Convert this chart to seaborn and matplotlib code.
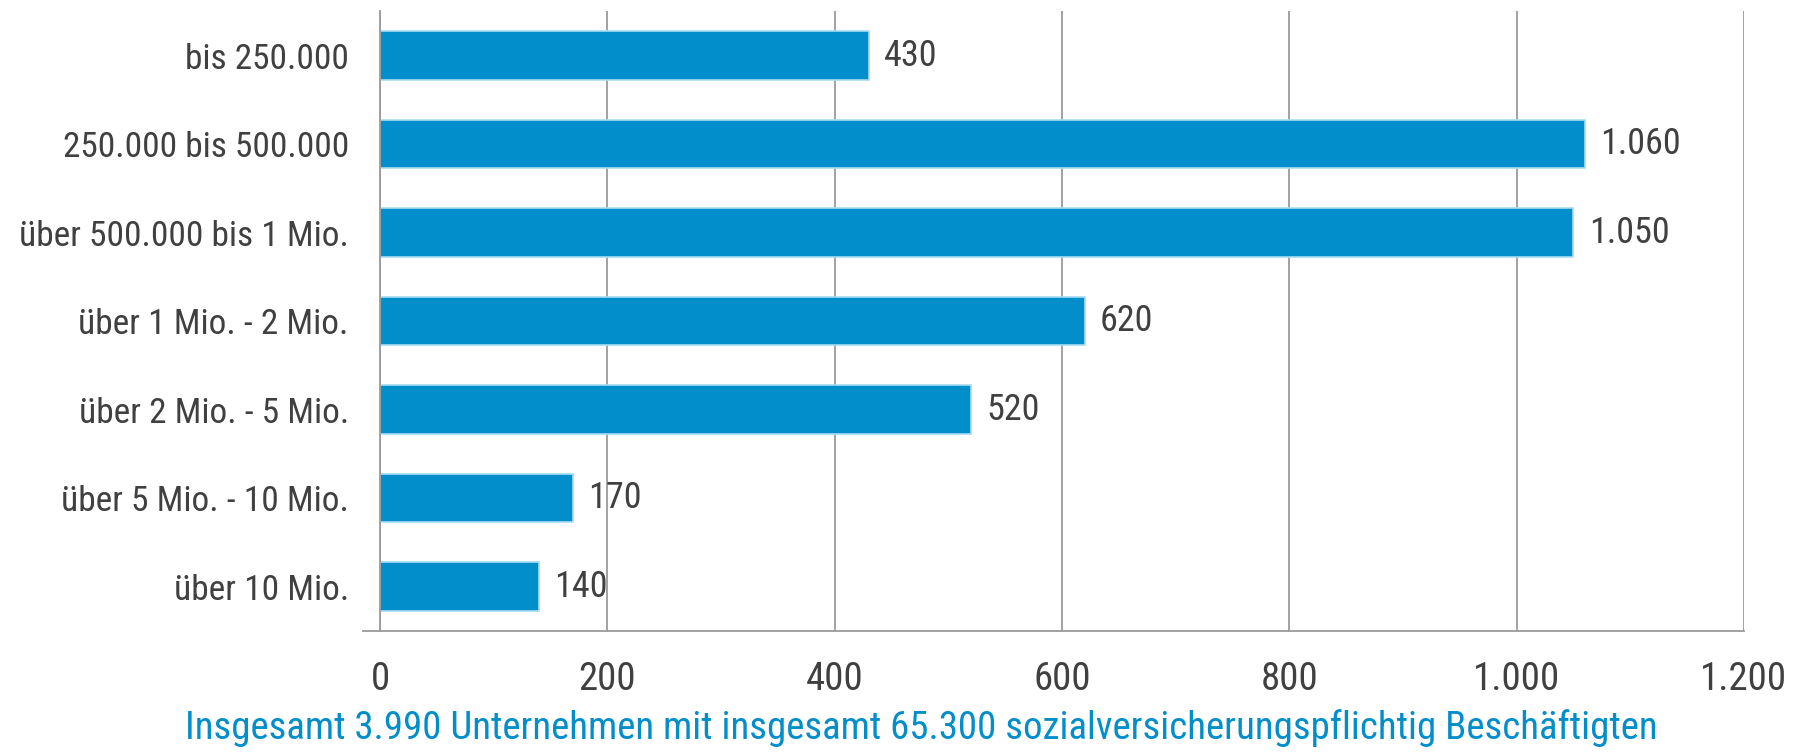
import numpy as np
import pandas as pd
import matplotlib
matplotlib.use("Agg")
import matplotlib.pyplot as plt
import seaborn as sns
from matplotlib.ticker import FuncFormatter, FixedLocator

# Daten
kategorien = ["bis 250.000", "250.000 bis 500.000", "über 500.000 bis 1 Mio.",
              "über 1 Mio. - 2 Mio.", "über 2 Mio. - 5 Mio.", "über 5 Mio. - 10 Mio.",
              "über 10 Mio."]
unternehmen = [430, 1060, 1050, 620, 520, 170, 140]
x_ticks = [0, 200, 400, 600, 800, 1000, 1200]
untertitel = "Insgesamt 3.990 Unternehmen mit insgesamt 65.300 sozialversicherungspflichtig Beschäftigten"

df = pd.DataFrame({"kategorie": kategorien, "anzahl": unternehmen})

sns.set_style("white")
plt.rcParams["font.family"] = ["Roboto Condensed", "DejaVu Sans"]

blau = "#028ecb"
grau_text = "#404040"
grau_linie = "#9a9a9a"

fig = plt.figure(figsize=(17.96, 7.52), dpi=100)
ax = fig.add_axes([0.2116, 0.161, 0.971 - 0.2116, 0.985 - 0.161])

sns.barplot(data=df, x="anzahl", y="kategorie", orient="h", color=blau,
            width=0.55, edgecolor="#a8dcf2", linewidth=1.2, saturation=1, ax=ax)

# Tausenderpunkt
def de_format(v, pos=None):
    return f"{int(v):,}".replace(",", ".")

ax.bar_label(ax.containers[0], labels=[de_format(v) for v in unternehmen],
             padding=11, fontsize=26, color=grau_text)

ax.set_xlim(0, 1200)
ax.set_ylim(6.5, -0.5)
ax.xaxis.set_major_locator(FixedLocator(x_ticks))
ax.xaxis.set_major_formatter(FuncFormatter(de_format))
ax.grid(axis="x", color=grau_linie, linewidth=1.3)
ax.set_axisbelow(True)

ax.tick_params(axis="x", length=0, pad=22, labelsize=28, labelcolor=grau_text)
ax.tick_params(axis="y", which="major", length=0, pad=22.5, labelsize=25.5, labelcolor=grau_text)
ax.set_yticks(np.arange(-0.5, 7, 1), minor=True)
ax.tick_params(axis="y", which="minor", length=12, width=1.3, color=grau_linie)

for s in ["top", "right"]:
    ax.spines[s].set_visible(False)
for s in ["left", "bottom"]:
    ax.spines[s].set_color(grau_linie)
    ax.spines[s].set_linewidth(1.3)
ax.spines["bottom"].set_bounds(-15, 1200)

ax.set_xlabel("")
ax.set_ylabel("")

fig.text(0.513, 1 - 728 / 752, untertitel, ha="center", va="center",
         fontsize=28, color=blau)

fig.savefig("out.png", dpi=100)
